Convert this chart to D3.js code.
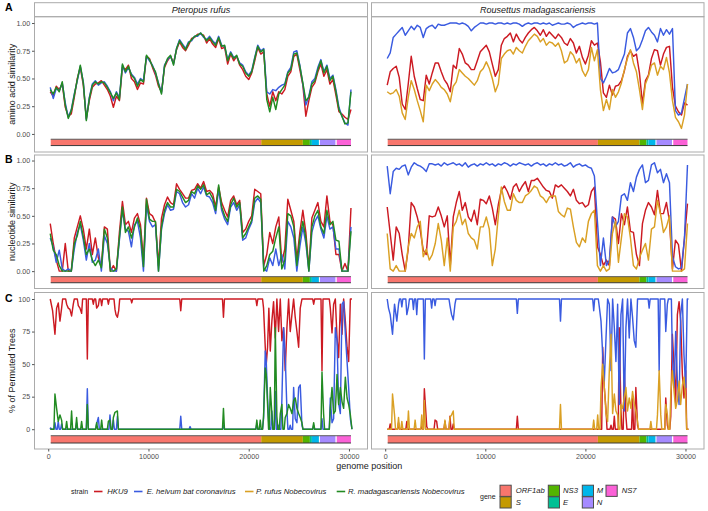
<!DOCTYPE html>
<html>
<head>
<meta charset="utf-8">
<title>Nobecovirus similarity</title>
<script src="https://cdn.jsdelivr.net/npm/d3@7"></script>
<style>
  body { margin: 0; background: #fff; }
  svg text { font-family: "Liberation Sans", Arial, sans-serif; }
</style>
</head>
<body>
<svg id="fig" width="708" height="511"></svg>
<script>
// ---- data --------------------------------------------------------------
const hosts = ["Pteropus rufus", "Rousettus madagascariensis"];
const strains = ["HKU9", "E. helvum bat coronavirus", "P. rufus Nobecovirus", "R. madagascariensis Nobecovirus"];
const strainColors = ["#CC1A22", "#3A5BE0", "#DAA024", "#228B22"];

const genes = ["ORF1ab", "S", "NS3", "E", "M", "N", "NS7"];
const geneStart = [250, 21250, 25400, 26100, 26300, 27100, 28780];
const geneEnd = [21250, 25400, 26100, 26300, 27000, 28650, 30200];
const geneColors = ["#F8766D", "#C49A00", "#53B400", "#00C094", "#00B6EB", "#A58AFF", "#FB61D7"];

const xTicks = [0, 10000, 20000, 30000];
const simTicks = [0, 0.25, 0.5, 0.75, 1];
const permTicks = [0, 25, 50, 75, 100];

// sliding window centres (bp) for the similarity plots
const windowPos = d3.range(200, 30201, 300);

// A: amino acid similarity, Pteropus rufus
const aaPrHKU9 = [0.38,0.34,0.43,0.40,0.45,0.24,0.16,0.18,0.33,0.50,
  0.60,0.44,0.14,0.30,0.42,0.45,0.46,0.48,0.44,0.40,
  0.34,0.24,0.34,0.30,0.60,0.58,0.62,0.50,0.47,0.40,
  0.46,0.45,0.70,0.68,0.60,0.53,0.43,0.38,0.60,0.66,
  0.70,0.64,0.76,0.83,0.78,0.75,0.80,0.86,0.87,0.90,
  0.90,0.89,0.82,0.86,0.81,0.78,0.86,0.77,0.78,0.63,
  0.72,0.66,0.70,0.62,0.58,0.52,0.49,0.55,0.66,0.78,
  0.72,0.74,0.36,0.25,0.38,0.30,0.38,0.36,0.40,0.52,
  0.56,0.70,0.72,0.58,0.44,0.16,0.30,0.42,0.46,0.56,
  0.63,0.52,0.58,0.45,0.49,0.35,0.20,0.18,0.15,0.13,
  0.22];
const aaPrEhelvum = [0.42,0.32,0.41,0.39,0.46,0.28,0.15,0.22,0.36,0.48,
  0.61,0.47,0.13,0.33,0.45,0.48,0.44,0.46,0.47,0.43,
  0.38,0.30,0.38,0.33,0.62,0.55,0.60,0.54,0.51,0.45,
  0.50,0.48,0.70,0.66,0.62,0.55,0.46,0.37,0.62,0.67,
  0.70,0.63,0.77,0.85,0.81,0.77,0.83,0.84,0.88,0.88,
  0.91,0.87,0.85,0.88,0.84,0.81,0.88,0.80,0.79,0.67,
  0.74,0.69,0.70,0.64,0.62,0.56,0.53,0.57,0.69,0.80,
  0.75,0.77,0.38,0.36,0.40,0.39,0.42,0.44,0.45,0.56,
  0.60,0.74,0.75,0.62,0.45,0.26,0.34,0.47,0.50,0.60,
  0.67,0.56,0.62,0.50,0.53,0.40,0.24,0.16,0.10,0.08,
  0.40];
const aaPrRmad = [0.40,0.36,0.42,0.38,0.47,0.26,0.14,0.21,0.35,0.49,
  0.62,0.46,0.12,0.32,0.44,0.47,0.45,0.47,0.46,0.42,
  0.37,0.32,0.37,0.31,0.63,0.56,0.61,0.53,0.50,0.43,
  0.49,0.47,0.71,0.67,0.61,0.56,0.45,0.36,0.61,0.68,
  0.71,0.62,0.77,0.84,0.80,0.76,0.82,0.85,0.88,0.89,
  0.91,0.88,0.84,0.87,0.83,0.80,0.87,0.79,0.80,0.66,
  0.73,0.68,0.71,0.63,0.61,0.55,0.52,0.56,0.68,0.79,
  0.74,0.76,0.31,0.20,0.33,0.22,0.36,0.40,0.44,0.55,
  0.58,0.72,0.73,0.61,0.46,0.30,0.33,0.45,0.48,0.58,
  0.66,0.55,0.61,0.48,0.52,0.38,0.22,0.16,0.09,0.10,
  0.38];

// A: amino acid similarity, Rousettus madagascariensis
const aaRmHKU9 = [0.44,0.56,0.59,0.61,0.51,0.27,0.22,0.45,0.70,0.52,
  0.41,0.31,0.30,0.53,0.45,0.55,0.64,0.64,0.56,0.49,
  0.45,0.38,0.62,0.59,0.77,0.72,0.64,0.62,0.58,0.58,
  0.66,0.74,0.77,0.80,0.74,0.63,0.52,0.58,0.80,0.86,
  0.88,0.91,0.83,0.90,0.85,0.82,0.87,0.91,0.94,0.96,
  0.93,0.89,0.94,0.88,0.92,0.89,0.86,0.90,0.87,0.82,
  0.80,0.86,0.82,0.73,0.79,0.69,0.63,0.71,0.84,0.80,
  0.82,0.65,0.37,0.33,0.44,0.35,0.43,0.44,0.48,0.57,
  0.70,0.75,0.70,0.72,0.55,0.27,0.48,0.53,0.68,0.76,
  0.75,0.62,0.72,0.78,0.79,0.42,0.25,0.20,0.17,0.28,
  0.26];
const aaRmEhelvum = [0.68,0.73,0.87,0.90,0.93,0.96,0.89,0.93,0.97,0.94,
  0.98,0.96,0.87,0.95,0.97,0.98,0.95,0.99,0.98,0.98,
  0.99,1.00,1.00,1.00,0.99,1.00,0.99,0.97,0.93,0.96,
  0.98,1.00,1.00,0.99,1.00,1.00,0.99,1.00,1.00,0.99,
  1.00,0.99,1.00,1.00,0.99,0.97,0.99,1.00,0.99,1.00,
  1.00,0.99,1.00,0.99,1.00,0.98,0.99,1.00,0.99,0.99,
  1.00,0.99,0.96,0.98,0.99,1.00,0.99,1.00,1.00,0.99,
  1.00,0.50,0.46,0.52,0.59,0.55,0.56,0.58,0.65,0.72,
  0.91,0.95,0.87,0.75,0.78,0.85,0.93,0.96,0.92,0.89,
  0.83,0.95,0.89,0.94,0.90,0.95,0.21,0.17,0.19,0.32,
  0.45];
const aaRmPrufus = [0.38,0.36,0.37,0.40,0.34,0.19,0.13,0.33,0.48,0.40,
  0.30,0.21,0.11,0.44,0.39,0.45,0.49,0.46,0.42,0.40,
  0.36,0.29,0.43,0.47,0.58,0.55,0.52,0.50,0.47,0.44,
  0.48,0.56,0.59,0.65,0.59,0.50,0.38,0.45,0.68,0.72,
  0.75,0.76,0.72,0.78,0.75,0.73,0.79,0.84,0.87,0.90,
  0.88,0.83,0.86,0.80,0.83,0.82,0.79,0.82,0.75,0.64,
  0.66,0.74,0.71,0.64,0.68,0.57,0.52,0.58,0.78,0.66,
  0.76,0.40,0.21,0.31,0.22,0.40,0.33,0.38,0.46,0.58,
  0.68,0.76,0.64,0.56,0.40,0.22,0.45,0.52,0.62,0.64,
  0.53,0.61,0.58,0.69,0.55,0.30,0.15,0.11,0.05,0.17,
  0.45];

// B: nucleotide similarity, Pteropus rufus
const ntPrHKU9 = [0.43,0.25,0.10,0.00,0.00,0.25,0.00,0.00,0.30,0.40,
  0.50,0.38,0.20,0.38,0.15,0.30,0.12,0.05,0.40,0.38,
  0.00,0.05,0.00,0.35,0.63,0.42,0.45,0.35,0.48,0.52,
  0.42,0.10,0.66,0.52,0.50,0.44,0.05,0.48,0.60,0.67,
  0.62,0.60,0.79,0.74,0.70,0.66,0.66,0.73,0.74,0.79,
  0.75,0.81,0.72,0.73,0.70,0.58,0.76,0.62,0.55,0.49,
  0.64,0.68,0.60,0.64,0.35,0.38,0.45,0.50,0.74,0.72,
  0.70,0.05,0.15,0.35,0.25,0.40,0.49,0.08,0.20,0.65,
  0.55,0.45,0.10,0.35,0.55,0.35,0.02,0.48,0.55,0.62,
  0.45,0.40,0.68,0.45,0.42,0.15,0.15,0.00,0.07,0.00,
  0.57];
const ntPrEhelvum = [0.30,0.22,0.08,0.19,0.02,0.00,0.02,0.00,0.20,0.35,
  0.42,0.28,0.10,0.25,0.08,0.10,0.20,0.00,0.32,0.25,
  0.03,0.00,0.00,0.28,0.55,0.38,0.36,0.22,0.42,0.45,
  0.30,0.00,0.60,0.45,0.40,0.42,0.00,0.38,0.52,0.60,
  0.55,0.56,0.72,0.70,0.62,0.58,0.60,0.70,0.66,0.75,
  0.70,0.76,0.68,0.67,0.62,0.52,0.74,0.55,0.47,0.42,
  0.58,0.62,0.55,0.60,0.28,0.30,0.38,0.44,0.62,0.66,
  0.62,0.02,0.00,0.12,0.05,0.20,0.05,0.15,0.02,0.45,
  0.40,0.30,0.00,0.22,0.40,0.25,0.00,0.35,0.45,0.50,
  0.38,0.30,0.50,0.38,0.40,0.20,0.20,0.00,0.00,0.00,
  0.40];
const ntPrRmad = [0.34,0.19,0.15,0.05,0.00,0.00,0.00,0.00,0.25,0.32,
  0.45,0.31,0.15,0.20,0.10,0.05,0.10,0.03,0.38,0.30,
  0.00,0.00,0.02,0.30,0.58,0.35,0.40,0.30,0.40,0.48,
  0.38,0.04,0.65,0.47,0.45,0.45,0.00,0.40,0.55,0.62,
  0.58,0.58,0.74,0.72,0.67,0.62,0.64,0.72,0.70,0.77,
  0.74,0.78,0.69,0.71,0.66,0.55,0.78,0.58,0.50,0.45,
  0.60,0.66,0.58,0.62,0.30,0.34,0.40,0.46,0.66,0.68,
  0.65,0.00,0.05,0.15,0.18,0.30,0.40,0.02,0.10,0.52,
  0.50,0.40,0.05,0.30,0.45,0.30,0.00,0.40,0.50,0.55,
  0.40,0.34,0.55,0.42,0.45,0.28,0.27,0.00,0.00,0.00,
  0.36];

// B: nucleotide similarity, Rousettus madagascariensis
const ntRmHKU9 = [0.58,0.34,0.10,0.40,0.34,0.15,0.00,0.20,0.62,0.58,
  0.49,0.37,0.19,0.15,0.50,0.49,0.50,0.58,0.50,0.40,
  0.50,0.05,0.49,0.62,0.72,0.55,0.62,0.49,0.45,0.55,
  0.42,0.65,0.64,0.61,0.68,0.57,0.42,0.60,0.73,0.77,
  0.72,0.65,0.76,0.79,0.72,0.77,0.81,0.72,0.82,0.82,
  0.84,0.80,0.76,0.73,0.72,0.66,0.78,0.76,0.78,0.75,
  0.72,0.68,0.74,0.64,0.61,0.62,0.58,0.60,0.72,0.76,
  0.22,0.15,0.05,0.10,0.05,0.49,0.47,0.25,0.52,0.42,
  0.58,0.36,0.35,0.15,0.05,0.43,0.55,0.62,0.58,0.51,
  0.73,0.52,0.52,0.62,0.45,0.02,0.28,0.24,0.00,0.30,
  0.61];
const ntRmEhelvum = [0.95,0.70,0.90,0.93,0.92,0.95,0.96,0.87,0.94,0.98,
  0.96,0.95,0.93,0.90,0.97,0.97,0.96,0.97,0.95,0.98,
  0.96,0.97,0.98,0.96,0.97,0.95,0.98,0.94,0.96,0.97,
  0.95,0.97,0.96,0.98,0.96,0.97,0.95,0.97,0.96,0.98,
  0.97,0.95,0.97,0.96,0.98,0.97,0.96,0.97,0.95,0.97,
  0.98,0.96,0.97,0.95,0.97,0.96,0.98,0.96,0.97,0.95,
  0.96,0.98,0.94,0.96,0.97,0.95,0.96,0.94,0.93,0.86,
  0.45,0.05,0.30,0.05,0.10,0.49,0.40,0.45,0.68,0.70,
  0.64,0.80,0.72,0.85,0.92,0.96,0.80,0.82,0.96,0.98,
  0.89,0.92,0.80,0.88,0.80,0.13,0.04,0.02,0.03,0.30,
  0.96];
const ntRmPrufus = [0.34,0.02,0.00,0.05,0.00,0.00,0.00,0.22,0.34,0.30,
  0.40,0.45,0.13,0.20,0.10,0.15,0.25,0.43,0.28,0.05,
  0.30,0.00,0.40,0.45,0.55,0.42,0.47,0.34,0.30,0.28,
  0.20,0.40,0.40,0.49,0.38,0.05,0.20,0.50,0.76,0.63,
  0.55,0.55,0.70,0.64,0.62,0.62,0.68,0.70,0.73,0.77,
  0.75,0.68,0.66,0.62,0.67,0.68,0.68,0.54,0.51,0.49,
  0.57,0.56,0.40,0.26,0.22,0.30,0.26,0.45,0.52,0.55,
  0.05,0.00,0.05,0.00,0.02,0.34,0.45,0.08,0.30,0.52,
  0.49,0.30,0.05,0.02,0.12,0.19,0.25,0.10,0.38,0.40,
  0.64,0.52,0.35,0.40,0.50,0.00,0.00,0.00,0.00,0.02,
  0.43];

const permPrHKU9 = [[435,91],[670,73],[835,93],[1000,97],[1170,83],[1335,93],[1835,96],[2000,93],[2165,92],[2330,87],
  [2500,96],[3000,95],[3165,93],[3330,89],[3900,54],[4500,96],[4830,93],[5000,95],[5330,95],[6000,96],[6660,92],
  [6760,88],[6900,86],[7030,91],[8330,97],[13220,91],[17480,86],[20810,95],[21480,93],[21650,63],[21750,50],
  [21880,63],[22010,93],[22150,60],[22310,83],[22480,98],[22650,70],[22810,100],[22980,75],[23150,100],[23310,68],
  [23480,78],[23640,45],[23810,78],[23980,100],[24140,75],[24310,88],[24480,100],[24640,86],[24810,75],[24980,63],
  [25140,93],[25310,100],[26480,96],[27310,45],[28140,93],[28310,74],[28470,96],[28640,100],[28810,70],[28970,55],
  [29140,96],[29310,73],[29470,100],[29640,83],[29810,63],[29970,52],[30140,100]];
const permPrEhelvum = [[235,1],[670,5],[1000,6],[1335,4],[2830,5],[3900,31],[4830,4],[5000,9],[6160,11],[6500,7],
  [6900,10],[13220,10],[14150,2],[17480,3],[20810,4],[21480,8],[21650,60],[21750,52],[21880,24],[22010,3],
  [22310,14],[22650,29],[22980,3],[23310,23],[23480,78],[23640,57],[23810,15],[24140,3],[24480,32],[24640,8],
  [24810,5],[24980,32],[25140,34],[25310,3],[26480,3],[27310,8],[28140,24],[28310,5],[28470,8],[28640,78],
  [28810,68],[28970,20],[29140,12],[29310,96],[29470,98],[29640,73],[29810,52],[29970,32],[30140,8]];
const permPrRmad = [[670,27],[835,16],[1000,6],[1170,11],[1335,7],[1835,6],[2330,14],[2830,9],[3330,6],[3900,19],
  [4830,5],[5330,7],[6000,6],[6160,7],[6500,9],[6660,13],[6900,14],[17480,16],[20810,7],[21150,7],[21480,10],
  [21650,47],[21750,42],[21880,19],[22150,32],[22310,12],[22650,78],[22810,10],[23150,12],[23310,19],[23640,9],
  [23810,12],[23980,19],[24140,16],[24310,12],[24480,22],[24640,24],[24810,16],[24980,12],[25140,9],[25310,5],
  [26480,5],[27310,44],[27470,12],[28140,16],[28310,32],[28470,12],[28640,14],[28810,42],[28970,19],[29140,32],
  [29310,21],[29470,16],[29640,40],[29810,24],[29970,19],[30140,11]];
const permRmHKU9 = [[500,4],[1330,5],[2160,6],[3650,2],[3910,31],[4150,2],[4980,7],[5140,6],[5970,6],[6470,10],
  [6800,4],[13200,10],[21730,63],[21890,32],[22060,15],[22560,3],[22890,10],[23380,78],[23550,15],[23880,45],
  [24050,10],[24710,24],[25040,32],[25210,3],[28030,24],[28190,3],[28530,10],[28690,73],[28860,47],[29020,20],
  [29190,88],[29360,98],[29520,83],[29690,42],[29850,24],[30020,45]];
const permRmEhelvum = [[330,93],[500,88],[730,73],[930,96],[1160,83],[1330,96],[1660,94],[2160,88],[2320,94],
  [2820,92],[3150,88],[3910,54],[4640,93],[4980,95],[6470,95],[6630,88],[6800,84],[6970,96],[13200,89],[17510,83],
  [20830,91],[21390,94],[21560,83],[21730,57],[21890,37],[22060,70],[22220,100],[22390,96],[22560,45],[22720,100],
  [22890,78],[23050,52],[23220,96],[23380,19],[23550,88],[23720,100],[23880,14],[24050,78],[24210,100],[24380,70],
  [24550,100],[24710,86],[24880,68],[25040,63],[25210,100],[26370,93],[27370,45],[28030,75],[28190,96],[28690,57],
  [28860,32],[29020,75],[29190,37],[29360,19],[29520,88],[29690,100],[29850,57],[30020,32],[30180,100]];
const permRmPrufus = [[730,27],[930,11],[1330,9],[1660,6],[2320,14],[2990,7],[3650,11],[3910,22],[5970,7],[6470,9],
  [6630,11],[6800,14],[17510,19],[20830,7],[21230,11],[21560,32],[21730,50],[21890,32],[22060,12],[22220,6],
  [22390,45],[22560,73],[22720,12],[22890,27],[23050,14],[23220,11],[23550,19],[23720,16],[23880,24],[24050,32],
  [24210,14],[24380,24],[24550,16],[24710,29],[24880,20],[25040,14],[25210,6],[26540,6],[27200,11],[27370,45],
  [27530,11],[28030,19],[28190,11],[28530,27],[28690,45],[28860,29],[29020,16],[29190,22],[29360,37],[29520,19],
  [29690,34],[29850,40],[30020,24]];

// ---- layout ------------------------------------------------------------
const svg = d3.select("#fig");
const borderCol = "#ababab";
const tickCol = "#4d4d4d";

const cols = [{x0: 34.5, x1: 367.5}, {x0: 371.5, x1: 704}];
const stripTop = 2.7;

// window series -> points
function windowed(vals) { return vals.map((v, i) => [windowPos[i], v]); }
// peak list -> points, dropping back to the baseline between separate peaks
function peaks(pts, base) {
  const out = [[200, base]];
  let last = 200;
  pts.forEach(([p, v]) => {
    if (p - last > 250) { out.push([last + 100, base]); out.push([p - 100, base]); }
    out.push([p, v]);
    last = p;
  });
  if (30300 - last > 250) out.push([last + 100, base]);
  out.push([30300, base]);
  return out;
}

const rows = [
  { label: "A", title: "amino acid similarity", y0: 16.7, y1: 152, dom: [-0.163, 1.057],
    ticks: simTicks, fmt: d3.format(".2f"), bar: [-0.105, -0.048],
    series: [
      [[0, windowed(aaPrHKU9)], [1, windowed(aaPrEhelvum)], [3, windowed(aaPrRmad)]],
      [[0, windowed(aaRmHKU9)], [1, windowed(aaRmEhelvum)], [2, windowed(aaRmPrufus)]]
    ] },
  { label: "B", title: "nucleotide similarity", y0: 155, y1: 288.5, dom: [-0.157, 1.05],
    ticks: simTicks, fmt: d3.format(".2f"), bar: [-0.105, -0.05],
    series: [
      [[0, windowed(ntPrHKU9)], [1, windowed(ntPrEhelvum)], [3, windowed(ntPrRmad)]],
      [[0, windowed(ntRmHKU9)], [1, windowed(ntRmEhelvum)], [2, windowed(ntRmPrufus)]]
    ] },
  { label: "C", title: "% of Permuted Trees", y0: 292.5, y1: 449, dom: [-15.2, 105],
    ticks: permTicks, fmt: d3.format("d"), bar: [-10.6, -5],
    series: [
      [[0, peaks(permPrHKU9, 100)], [1, peaks(permPrEhelvum, 0)], [3, peaks(permPrRmad, 0)]],
      [[0, peaks(permRmHKU9, 0)], [1, peaks(permRmEhelvum, 100)], [2, peaks(permRmPrufus, 0)]]
    ] }
];

// strips
cols.forEach((c, ci) => {
  svg.append("rect").attr("x", c.x0).attr("y", stripTop)
    .attr("width", c.x1 - c.x0).attr("height", rows[0].y0 - stripTop)
    .attr("fill", "#fff").attr("stroke", borderCol).attr("stroke-width", 1);
  svg.append("text").attr("x", (c.x0 + c.x1) / 2).attr("y", (stripTop + rows[0].y0) / 2)
    .attr("dy", "0.35em").attr("text-anchor", "middle")
    .attr("font-size", 9).attr("font-style", "italic").attr("fill", "#1a1a1a")
    .text(hosts[ci]);
});

rows.forEach((r, ri) => {
  const y = d3.scaleLinear().domain(r.dom).range([r.y1, r.y0]);

  cols.forEach((c, ci) => {
    const x = d3.scaleLinear().domain([-1370, 31850]).range([c.x0, c.x1]);
    const clipId = "clip" + ri + ci;
    svg.append("clipPath").attr("id", clipId).append("rect")
      .attr("x", c.x0).attr("y", r.y0).attr("width", c.x1 - c.x0).attr("height", r.y1 - r.y0);

    const g = svg.append("g").attr("clip-path", `url(#${clipId})`);

    const line = d3.line().x(d => x(d[0])).y(d => y(d[1]));
    r.series[ci].forEach(([si, pts]) => {
      g.append("path").datum(pts).attr("d", line)
        .attr("fill", "none").attr("stroke", strainColors[si])
        .attr("stroke-width", 1.45).attr("stroke-linejoin", "round");
    });

    // gene bar
    genes.forEach((gn, gi) => {
      g.append("rect").attr("x", x(geneStart[gi])).attr("y", y(r.bar[1]))
        .attr("width", x(geneEnd[gi]) - x(geneStart[gi]))
        .attr("height", y(r.bar[0]) - y(r.bar[1]))
        .attr("fill", geneColors[gi]);
    });
    [r.bar[1], r.bar[0]].forEach((b, k) => {
      g.append("line").attr("x1", x(geneStart[0])).attr("x2", x(geneEnd[geneEnd.length - 1]))
        .attr("y1", y(b)).attr("y2", y(b))
        .attr("stroke", k ? "#3a3a3a" : "#5a5a5a").attr("stroke-width", 1);
    });

    // panel border
    svg.append("rect").attr("x", c.x0).attr("y", r.y0)
      .attr("width", c.x1 - c.x0).attr("height", r.y1 - r.y0)
      .attr("fill", "none").attr("stroke", borderCol).attr("stroke-width", 1);

    // x axis only under the last row
    if (ri === rows.length - 1) {
      const ax = svg.append("g").attr("transform", `translate(0,${r.y1})`)
        .call(d3.axisBottom(x).tickValues(xTicks).tickSize(2.5).tickPadding(2).tickFormat(d3.format("d")));
      ax.select(".domain").remove();
      ax.selectAll("line").attr("stroke", "#555");
      ax.selectAll("text").attr("font-size", 7.1).attr("fill", tickCol)
        .attr("font-family", "Liberation Sans, Arial, sans-serif");
    }
  });

  // y axis on the left column
  const ay = svg.append("g").attr("transform", `translate(${cols[0].x0},0)`)
    .call(d3.axisLeft(y).tickValues(r.ticks).tickSize(2.5).tickPadding(1.8).tickFormat(r.fmt));
  ay.select(".domain").remove();
  ay.selectAll("line").attr("stroke", "#555");
  ay.selectAll("text").attr("font-size", 7.1).attr("fill", tickCol)
    .attr("font-family", "Liberation Sans, Arial, sans-serif");

  svg.append("text")
    .attr("transform", `translate(12,${(r.y0 + r.y1) / 2}) rotate(-90)`)
    .attr("text-anchor", "middle").attr("dy", "0.35em")
    .attr("font-size", 9).attr("fill", "#1a1a1a").text(r.title);

  const labelY = [10.5, 163, 301.7][ri];
  svg.append("text").attr("x", 5).attr("y", labelY)
    .attr("font-size", 10.5).attr("font-weight", "bold").attr("fill", "#000").text(r.label);
});

svg.append("text").attr("x", (cols[0].x0 + cols[1].x1) / 2).attr("y", 469)
  .attr("text-anchor", "middle").attr("font-size", 9).attr("fill", "#1a1a1a").text("genome position");

// ---- legends ---------------------------------------------------------
const legY = 491.5;
svg.append("text").attr("x", 71).attr("y", legY).attr("dy", "0.35em")
  .attr("font-size", 7).attr("fill", "#1a1a1a").text("strain");
const keyX = [94, 134, 245, 336.7];
const keyTextX = [107.3, 146.7, 256, 348];
strains.forEach((s, i) => {
  svg.append("line").attr("x1", keyX[i]).attr("x2", keyX[i] + 8.5)
    .attr("y1", legY).attr("y2", legY)
    .attr("stroke", strainColors[i]).attr("stroke-width", 1.6);
  svg.append("text").attr("x", keyTextX[i]).attr("y", legY).attr("dy", "0.35em")
    .attr("font-size", 7.7).attr("font-style", "italic").attr("fill", "#1a1a1a").text(s);
});

svg.append("text").attr("x", 480).attr("y", 497).attr("dy", "0.35em")
  .attr("font-size", 7).attr("fill", "#1a1a1a").text("gene");
const geneColX = [500, 548.3, 582.3, 606];
const geneTextX = [515.7, 563, 596.7, 621.7];
const geneRowY = [485.2, 496.8];
const keySize = 11.2;
genes.forEach((gn, i) => {
  const col = Math.floor(i / 2), row = i % 2;
  svg.append("rect").attr("x", geneColX[col]).attr("y", geneRowY[row])
    .attr("width", keySize).attr("height", keySize)
    .attr("fill", geneColors[i]).attr("stroke", "#4d4d4d").attr("stroke-width", 1);
  svg.append("text").attr("x", geneTextX[col]).attr("y", geneRowY[row] + keySize / 2).attr("dy", "0.35em")
    .attr("font-size", 7.7).attr("font-style", "italic").attr("fill", "#1a1a1a").text(gn);
});
</script>
</body>
</html>
